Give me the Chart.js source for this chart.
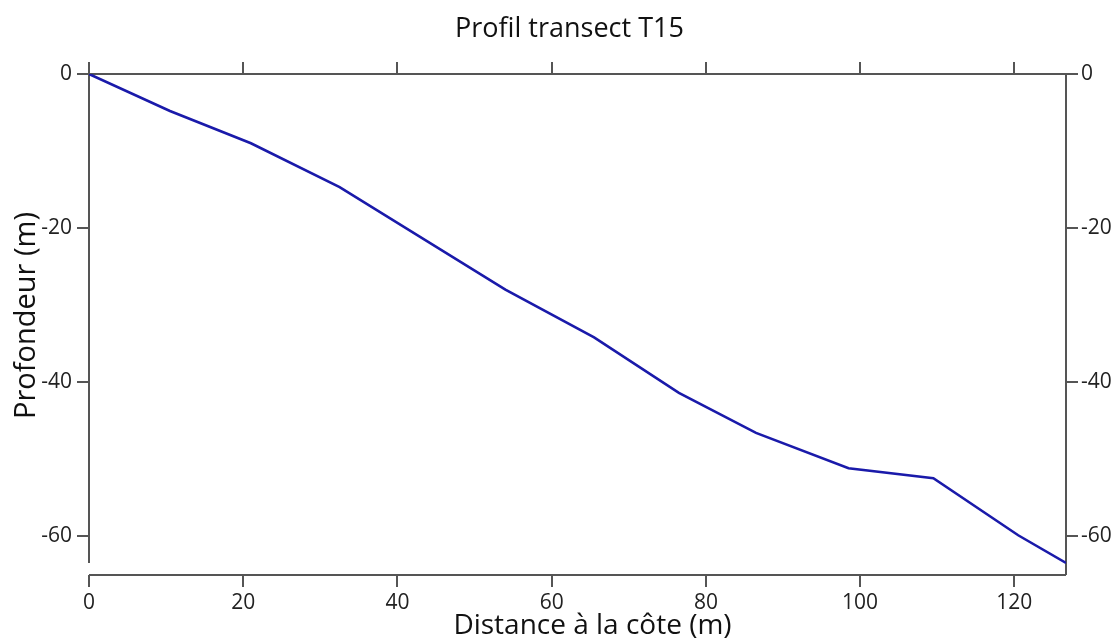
<!DOCTYPE html>
<html>
<head>
<meta charset="utf-8">
<script src="https://cdn.jsdelivr.net/npm/chart.js@4/dist/chart.umd.min.js"></script>
<style>
html,body{margin:0;padding:0;background:#fff;}
#c{display:block;}
</style>
</head>
<body>
<canvas id="c" width="1117" height="643"></canvas>
<script>
const distances = [0, 10.5, 21, 32.5, 54, 65.5, 76.5, 86.5, 98.5, 109.5, 120.5, 126.7];
const depths = [0, -4.8, -9, -14.7, -28, -34.2, -41.4, -46.6, -51.2, -52.5, -59.9, -63.5];
const xTicks = [0, 20, 40, 60, 80, 100, 120];
const yTicks = [0, -20, -40, -60];
const xTitle = 'Distance à la côte (m)';
const yTitle = 'Profondeur (m)';
const chartTitle = 'Profil transect T15';

const FONT = "'Open Sans', 'Noto Sans', sans-serif";
const AXIS_COLOR = '#555';
const TEXT_COLOR = '#222';

const points = distances.map((d, i) => ({x: d, y: depths[i]}));

const xMax = 126.7;
const yMin = -65.06;

const tickFilter = (vals) => (scale) => {
  scale.ticks = vals.map(v => ({value: v}));
};

const axisLines = {
  id: 'axisLines',
  beforeDatasetsDraw(chart) {
    const {ctx, chartArea: ca, scales} = chart;
    const minDepth = Math.min(...depths);
    ctx.save();
    ctx.strokeStyle = AXIS_COLOR;
    ctx.lineWidth = 2;
    ctx.beginPath();
    ctx.moveTo(ca.left, ca.top - 12);
    ctx.lineTo(ca.left, scales.y.getPixelForValue(minDepth));
    ctx.moveTo(ca.left - 12, ca.top);
    ctx.lineTo(ca.right + 12, ca.top);
    ctx.moveTo(ca.right, ca.top);
    ctx.lineTo(ca.right, ca.bottom);
    ctx.moveTo(ca.left, ca.bottom);
    ctx.lineTo(ca.right, ca.bottom);
    ctx.stroke();
    ctx.restore();
  }
};

const axisTitles = {
  id: 'axisTitles',
  afterDraw(chart) {
    const {ctx, chartArea: ca} = chart;
    ctx.save();
    ctx.fillStyle = '#111';
    ctx.textAlign = 'center';
    ctx.textBaseline = 'middle';
    ctx.font = "28px " + FONT;
    ctx.fillText(xTitle, (ca.left + ca.right) / 2 + 15, ca.bottom + 51);
    ctx.translate(27, (ca.top + ca.bottom) / 2 - 9);
    ctx.rotate(-Math.PI / 2);
    ctx.font = "29px " + FONT;
    ctx.fillText(yTitle, 0, 0);
    ctx.restore();
  }
};

const tickFont = {family: FONT, size: 21};
const gridCfg = {drawOnChartArea: false, drawTicks: true, tickLength: 12, color: AXIS_COLOR, lineWidth: 2};

const TITLE_SIZE = 27;
const TITLE_PAD_TOP = 13;
const titleBoxH = TITLE_SIZE * 1.2 + TITLE_PAD_TOP;
const PAD_LEFT = 22;

new Chart(document.getElementById('c'), {
  type: 'line',
  data: {
    datasets: [{
      data: points,
      borderColor: '#1a1aaa',
      borderWidth: 2.6,
      pointRadius: 0,
      tension: 0,
      fill: false
    }]
  },
  options: {
    responsive: false,
    animation: false,
    devicePixelRatio: 1,
    layout: {padding: {left: PAD_LEFT, right: 0, top: 0, bottom: 0}},
    plugins: {
      legend: {display: false},
      tooltip: {enabled: false},
      title: {
        display: true,
        text: chartTitle,
        color: '#111',
        font: {family: FONT, size: TITLE_SIZE, weight: 'normal'},
        padding: {top: TITLE_PAD_TOP, bottom: 0}
      }
    },
    scales: {
      x: {
        type: 'linear', position: 'bottom', min: 0, max: xMax,
        afterBuildTicks: tickFilter(xTicks),
        ticks: {color: TEXT_COLOR, font: tickFont, padding: 3, maxRotation: 0},
        grid: gridCfg,
        border: {display: false},
        afterFit(s) { s.height = 68; }
      },
      x2: {
        type: 'linear', position: 'top', min: 0, max: xMax,
        afterBuildTicks: tickFilter(xTicks),
        ticks: {display: false},
        grid: gridCfg,
        border: {display: false},
        afterFit(s) { s.height = 74 - titleBoxH; }
      },
      y: {
        type: 'linear', position: 'left', min: yMin, max: 0,
        afterBuildTicks: tickFilter(yTicks),
        ticks: {color: TEXT_COLOR, font: tickFont, padding: 5},
        grid: gridCfg,
        border: {display: false},
        afterFit(s) { s.width = 89 - PAD_LEFT; }
      },
      y2: {
        type: 'linear', position: 'right', min: yMin, max: 0,
        afterBuildTicks: tickFilter(yTicks),
        ticks: {color: TEXT_COLOR, font: tickFont, padding: 3},
        grid: gridCfg,
        border: {display: false},
        afterFit(s) { s.width = 51; }
      }
    }
  },
  plugins: [axisLines, axisTitles]
});
</script>
</body>
</html>
